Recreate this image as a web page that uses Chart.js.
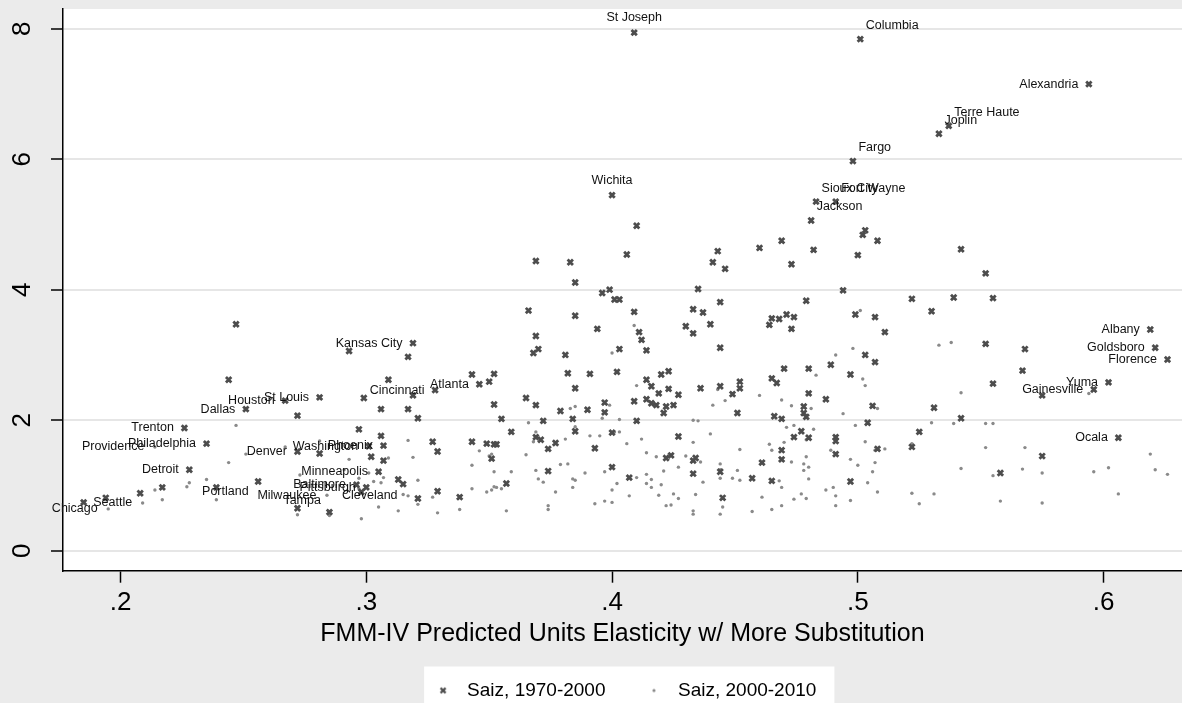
<!DOCTYPE html>
<html lang="en">
<head>
<meta charset="UTF-8" />
<title>Saiz elasticities vs FMM-IV predicted units elasticity</title>
<script src="https://cdn.jsdelivr.net/npm/chart.js@4"></script>
<style>
  html, body { margin: 0; padding: 0; background: #ebebeb; }
  canvas { display: block; }
</style>
</head>
<body>
<canvas id="chart" width="1182" height="703"></canvas>
<script>
// axis ranges and ticks
const xMin = 0.1766, xMax = 0.6319;
const yMin = -0.307, yMax = 8.302;
const xTicks = [0.2, 0.3, 0.4, 0.5, 0.6];
const xTickLabels = ['.2', '.3', '.4', '.5', '.6'];
const yTicks = [0, 2, 4, 6, 8];
const yTickLabels = ['0', '2', '4', '6', '8'];
const xTitle = 'FMM-IV Predicted Units Elasticity w/ More Substitution';
const seriesNames = ['Saiz, 1970-2000', 'Saiz, 2000-2010'];

// Saiz 1970-2000: labelled cities first ([x, y])
const names1970 = ['St Joseph', 'Columbia', 'Alexandria', 'Terre Haute', 'Joplin', 'Fargo', 'Wichita',
  'Sioux City', 'Fort Wayne', 'Jackson', 'Kansas City', 'Albany', 'Goldsboro', 'Florence', 'Yuma',
  'Gainesville', 'Atlanta', 'Cincinnati', 'St Louis', 'Houston', 'Dallas', 'Trenton', 'Philadelphia',
  'Ocala', 'Denver', 'Washington', 'Phoenix', 'Detroit', 'Minneapolis', 'Baltimore', 'Pittsburgh',
  'Portland', 'Tampa'];
const named1970 = [[.409,7.94],[.501,7.84],[.594,7.15],[.537,6.51],[.533,6.39],[.498,5.97],[.400,5.45],
  [.483,5.35],[.491,5.35],[.481,5.06],[.319,3.18],[.619,3.39],[.621,3.11],[.626,2.93],[.602,2.58],
  [.596,2.47],[.346,2.55],[.328,2.46],[.281,2.35],[.267,2.30],[.251,2.17],[.226,1.88],[.235,1.64],
  [.606,1.73],[.272,1.52],[.301,1.60],[.307,1.61],[.228,1.24],[.305,1.21],[.296,1.01],[.300,0.97],
  [.256,1.06],[.285,0.59]];
// label side, as a clock position
const clock1970 = [12, 1, 9, 1, 1, 1, 12, 1, 1, 1, 9, 9, 9, 9, 9, 9, 9, 9, 9, 9, 9, 9, 9,
  9, 9, 9, 9, 9, 9, 9, 9, 8, 10];

const other1970 = [[.185,.74],[.194,.81],[.208,.88],[.217,.97],[.239,.97],[.247,3.47],[.244,2.62],
  [.272,2.07],[.293,3.06],[.309,2.62],[.299,2.34],[.306,2.17],[.297,1.86],[.306,1.76],[.302,1.44],
  [.307,1.38],[.281,1.49],[.313,1.09],[.298,.90],[.272,.65],[.315,1.02],[.319,2.38],[.317,2.97],
  [.317,2.17],[.321,2.03],[.321,.80],[.327,1.67],[.329,1.52],[.329,.91],[.338,.82],[.343,2.70],
  [.350,2.59],[.352,2.71],[.343,1.67],[.349,1.64],[.352,1.63],[.353,1.63],[.351,1.41],[.352,2.24],
  [.355,2.02],[.359,1.82],[.365,2.34],[.369,2.23],[.372,1.99],[.357,1.03],[.371,1.70],[.369,1.74],
  [.374,1.56],[.377,1.65],[.374,1.22],[.366,3.68],[.369,4.44],[.383,4.42],[.385,4.11],[.396,3.95],
  [.399,4.00],[.401,3.85],[.403,3.85],[.406,4.54],[.410,4.98],[.409,3.66],[.385,3.60],[.394,3.40],
  [.369,3.29],[.368,3.03],[.370,3.09],[.381,3.00],[.403,3.09],[.411,3.35],[.412,3.23],[.414,3.07],
  [.382,2.72],[.391,2.71],[.402,2.74],[.385,2.49],[.379,2.14],[.390,2.16],[.384,2.02],[.397,2.27],
  [.397,2.12],[.409,2.29],[.410,1.99],[.385,1.83],[.400,1.81],[.393,1.57],[.400,1.28],[.407,1.12],
  [.443,4.59],[.441,4.42],[.446,4.32],[.460,4.64],[.469,4.75],[.482,4.61],[.473,4.39],[.503,4.91],
  [.502,4.84],[.508,4.75],[.500,4.53],[.435,4.01],[.494,3.99],[.444,3.81],[.479,3.83],[.433,3.70],
  [.437,3.65],[.440,3.47],[.430,3.44],[.433,3.33],[.444,3.11],[.465,3.56],[.468,3.55],[.471,3.62],
  [.474,3.58],[.464,3.46],[.473,3.40],[.499,3.62],[.507,3.58],[.511,3.35],[.503,3.00],[.507,2.89],
  [.489,2.85],[.497,2.70],[.470,2.79],[.480,2.79],[.465,2.64],[.467,2.57],[.414,2.62],[.416,2.52],
  [.420,2.70],[.423,2.75],[.436,2.49],[.444,2.52],[.452,2.59],[.452,2.49],[.423,2.48],[.419,2.41],
  [.427,2.39],[.449,2.40],[.414,2.32],[.416,2.26],[.418,2.23],[.422,2.21],[.425,2.23],[.421,2.11],
  [.451,2.11],[.480,2.41],[.487,2.32],[.478,2.21],[.478,2.11],[.479,2.05],[.466,2.06],[.469,2.02],
  [.506,2.22],[.504,1.96],[.477,1.83],[.474,1.74],[.480,1.73],[.491,1.74],[.491,1.68],[.491,1.48],
  [.427,1.75],[.469,1.54],[.469,1.40],[.461,1.35],[.508,1.56],[.422,1.42],[.424,1.46],[.433,1.38],
  [.434,1.42],[.433,1.18],[.444,1.21],[.457,1.11],[.465,1.07],[.497,1.06],[.445,.81],
  [.522,3.86],[.539,3.88],[.555,3.87],[.542,4.62],[.552,4.25],[.530,3.67],[.552,3.17],[.568,3.09],
  [.567,2.76],[.555,2.56],[.575,2.38],[.531,2.19],[.542,2.03],[.525,1.82],[.522,1.59],[.575,1.45],
  [.558,1.19]];

// Saiz 2000-2010: labelled cities first
const names2000 = ['Providence', 'Milwaukee', 'Seattle', 'Cleveland', 'Chicago'];
const named2000 = [[.214,1.59],[.284,.85],[.209,.73],[.317,.84],[.195,.64]];
const clock2000 = [9, 9, 9, 9, 9];

const other2000 = [[.194,.78],[.214,.93],[.217,.78],[.227,.98],[.228,1.04],[.235,1.09],[.239,.78],
  [.244,1.35],[.247,1.92],[.251,1.48],[.267,1.59],[.281,1.68],[.293,1.40],[.273,1.16],[.291,1.24],
  [.297,1.11],[.301,1.19],[.303,1.06],[.306,1.04],[.309,1.42],[.297,.95],[.305,.67],[.313,.61],
  [.272,.55],[.285,.54],[.298,.49],[.307,1.12],[.317,1.69],[.319,1.43],[.321,1.08],[.315,.86],
  [.321,.71],[.329,.58],[.338,.63],[.327,.82],[.343,1.31],[.346,1.53],[.343,.95],[.349,.90],
  [.351,.93],[.352,.98],[.353,.97],[.355,.95],[.352,1.21],[.351,1.48],[.350,1.45],[.359,1.21],
  [.357,.61],[.365,1.47],[.369,1.23],[.370,1.10],[.372,1.05],[.369,1.82],[.368,1.67],[.366,1.96],
  [.374,.69],[.374,.63],[.377,.90],[.379,1.32],[.382,1.33],[.381,1.71],[.384,.97],[.384,1.10],
  [.385,1.08],[.389,1.19],[.391,1.76],[.395,1.76],[.393,.72],[.397,.76],[.400,.74],[.397,1.21],
  [.400,.93],[.402,1.03],[.406,1.64],[.407,.84],[.410,1.12],[.403,2.01],[.403,1.82],[.401,1.82],
  [.396,2.03],[.399,2.23],[.383,2.18],[.385,2.21],[.385,1.90],[.410,2.53],[.409,3.45],[.400,3.03],
  [.503,2.53],[.508,2.18],[.494,2.10],[.481,2.18],[.473,2.22],[.469,2.31],[.460,2.38],[.446,2.30],
  [.441,2.23],[.433,2.00],[.435,1.99],[.440,1.79],[.412,1.71],[.433,1.66],[.452,1.55],[.471,1.89],
  [.474,1.92],[.482,1.86],[.464,1.63],[.465,1.54],[.470,1.66],[.479,1.70],[.489,1.54],[.499,1.92],
  [.503,1.67],[.511,1.56],[.507,1.54],[.414,1.50],[.418,1.44],[.430,1.45],[.436,1.36],[.444,1.33],
  [.444,1.24],[.421,1.22],[.427,1.28],[.451,1.23],[.449,1.11],[.452,1.08],[.444,1.11],[.437,1.05],
  [.414,1.17],[.416,1.09],[.414,1.03],[.420,1.01],[.416,.97],[.419,.85],[.425,.87],[.427,.80],
  [.434,.86],[.422,.69],[.424,.70],[.433,.61],[.433,.56],[.445,.67],[.444,.56],[.457,.60],
  [.461,.82],[.465,.63],[.469,.69],[.468,1.07],[.469,.97],[.473,1.36],[.478,1.33],[.480,1.28],
  [.478,1.23],[.480,1.10],[.479,1.44],[.477,.87],[.474,.79],[.479,.80],[.487,.93],[.490,.97],
  [.491,.84],[.491,.69],[.497,.77],[.504,1.04],[.508,.90],[.506,1.21],[.507,1.35],[.500,1.31],
  [.497,1.40],[.501,3.68],[.498,3.10],[.491,3.00],[.483,2.69],[.502,2.63],[.443,2.47],
  [.533,3.15],[.538,3.19],[.542,2.42],[.530,1.96],[.539,1.95],[.552,1.95],[.555,1.95],[.594,2.41],
  [.552,1.58],[.568,1.58],[.542,1.26],[.555,1.15],[.567,1.25],[.575,1.19],[.596,1.21],[.602,1.27],
  [.619,1.48],[.621,1.24],[.626,1.17],[.606,.87],[.522,.88],[.531,.87],[.525,.72],[.558,.76],
  [.575,.73],[.522,1.64]];

const FONT = "'Liberation Sans', Arial, Helvetica, sans-serif";
const LEGEND_BOX = 29;
const DARK = '#4d4d4d';
const LIGHT = '#8a8a8a';

// where a label sits relative to its marker
const CLOCK = {
  9:  { dx: -10.5, dy: 0,     align: 'right' },
  1:  { dx: 5.5,   dy: -13.5, align: 'left' },
  12: { dx: 0,     dy: -15,   align: 'center' },
  8:  { dx: -9.5,  dy: 10,    align: 'right' },
  10: { dx: -8.5,  dy: -12,   align: 'right' }
};

const toXY = pts => pts.map(([x, y]) => ({ x, y }));

// small legend symbols (so the wide legend box does not stretch them)
function legendIcon(kind) {
  const c = document.createElement('canvas');
  c.width = c.height = 10;
  const g = c.getContext('2d');
  if (kind === 'x') {
    g.strokeStyle = DARK;
    g.lineWidth = 2.4;
    g.beginPath();
    g.moveTo(2.5, 2.5); g.lineTo(7.5, 7.5);
    g.moveTo(7.5, 2.5); g.lineTo(2.5, 7.5);
    g.stroke();
  } else {
    g.fillStyle = LIGHT;
    g.beginPath();
    g.arc(5, 5, 1.6, 0, Math.PI * 2);
    g.fill();
  }
  return c;
}
const legendIcons = [legendIcon('x'), legendIcon('dot')];

// grey page, white plot region and legend box
const backdrop = {
  id: 'backdrop',
  beforeDraw(chart) {
    const { ctx, chartArea: a, width, height, legend } = chart;
    ctx.save();
    ctx.fillStyle = '#ebebeb';
    ctx.fillRect(0, 0, width, height);
    ctx.fillStyle = '#fff';
    ctx.fillRect(a.left, a.top, a.right - a.left, a.bottom - a.top);
    const hb = legend && legend.legendHitBoxes;
    if (hb && hb.length) {
      const pad = legend.options.labels.padding;
      const cy = legend.top + pad + 19 / 2;
      const x0 = hb[0].left + LEGEND_BOX / 2 - 19;
      const last = hb[hb.length - 1];
      const x1 = last.left + last.width + 18;
      ctx.fillRect(x0, cy - 24, x1 - x0, height - cy + 24);
    }
    ctx.restore();
  }
};

// city names next to their markers
const cityLabels = {
  id: 'cityLabels',
  afterDatasetsDraw(chart) {
    const ctx = chart.ctx;
    ctx.save();
    ctx.font = '12.5px ' + FONT;
    ctx.fillStyle = '#111';
    ctx.textBaseline = 'middle';
    [[0, names1970, clock1970], [1, names2000, clock2000]].forEach(([ds, names, clocks]) => {
      const pts = chart.getDatasetMeta(ds).data;
      names.forEach((name, i) => {
        const o = CLOCK[clocks[i]];
        ctx.textAlign = o.align;
        ctx.fillText(name, pts[i].x + o.dx, pts[i].y + o.dy);
      });
    });
    ctx.restore();
  }
};

new Chart(document.getElementById('chart'), {
  type: 'scatter',
  data: {
    datasets: [
      {
        label: seriesNames[0],
        data: toXY(named1970.concat(other1970)),
        pointStyle: 'crossRot',
        pointRadius: 3.8,
        pointBorderWidth: 2.8,
        borderColor: DARK,
        backgroundColor: DARK
      },
      {
        label: seriesNames[1],
        data: toXY(named2000.concat(other2000)),
        pointStyle: 'circle',
        pointRadius: 1.7,
        pointBorderWidth: 0,
        borderColor: LIGHT,
        backgroundColor: LIGHT
      }
    ]
  },
  options: {
    responsive: false,
    animation: false,
    devicePixelRatio: 1,
    events: [],
    layout: { autoPadding: false, padding: { top: 9, right: 0, left: 0, bottom: -7 } },
    plugins: {
      tooltip: { enabled: false },
      legend: {
        position: 'bottom',
        fullSize: false,
        labels: {
          usePointStyle: true,
          pointStyleWidth: LEGEND_BOX,
          boxHeight: 4,
          padding: 34,
          color: '#000',
          font: { family: FONT, size: 19 },
          generateLabels: chart => {
            const items = Chart.defaults.plugins.legend.labels.generateLabels(chart);
            items.forEach((it, i) => { it.pointStyle = legendIcons[i]; });
            return items;
          }
        }
      }
    },
    scales: {
      x: {
        type: 'linear',
        min: xMin,
        max: xMax,
        afterBuildTicks: s => { s.ticks = xTicks.map(v => ({ value: v })); },
        afterFit: s => { s.height = 76.3; s.paddingLeft = 0; s.paddingRight = 0; },
        ticks: {
          callback: (v, i) => xTickLabels[i],
          padding: 4.4,
          maxRotation: 0,
          color: '#000',
          font: { family: FONT, size: 26 }
        },
        grid: { display: true, drawOnChartArea: false, drawTicks: true, tickLength: 12, tickColor: '#000', tickWidth: 1.5 },
        border: { display: true, color: '#000', width: 1.5 },
        title: { display: true, text: xTitle, color: '#000', padding: 0, font: { family: FONT, size: 25, lineHeight: 1.05 } }
      },
      y: {
        type: 'linear',
        min: yMin,
        max: yMax,
        afterBuildTicks: s => { s.ticks = yTicks.map(v => ({ value: v })); },
        afterFit: s => { s.width = 63; s.paddingTop = 0; s.paddingBottom = 0; },
        ticks: {
          callback: (v, i) => yTickLabels[i],
          minRotation: 90,
          maxRotation: 90,
          crossAlign: 'center',
          padding: 21,
          color: '#000',
          font: { family: FONT, size: 26 }
        },
        grid: { color: '#e6e6e6', lineWidth: 2, drawTicks: true, tickLength: 12, tickColor: '#000', tickWidth: 1.5 },
        border: { display: true, color: '#000', width: 1.5 }
      }
    }
  },
  plugins: [backdrop, cityLabels]
});
</script>
</body>
</html>
